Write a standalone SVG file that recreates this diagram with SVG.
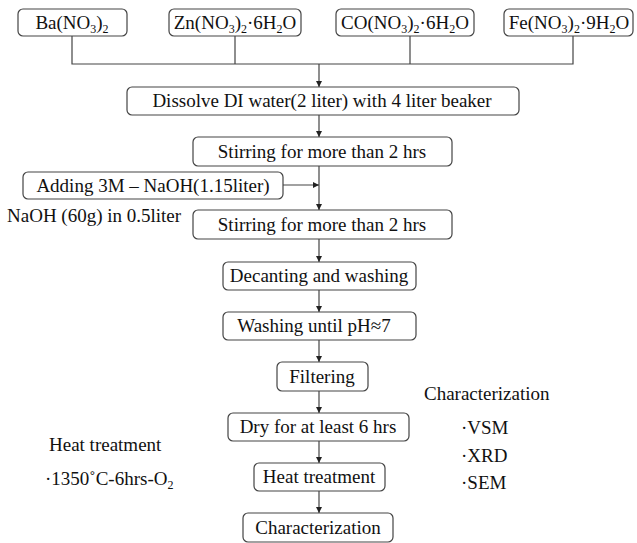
<svg xmlns="http://www.w3.org/2000/svg" width="637" height="543" viewBox="0 0 637 543">
<style>
.box{fill:#fff;stroke:#444;stroke-width:1.2}
.t{font-family:'Liberation Serif','Times New Roman',serif;font-size:19px;fill:#111}
.m{text-anchor:middle}
.ln{fill:none;stroke:#444;stroke-width:1.2}
</style>
<defs>
<marker id="ah" viewBox="0 0 8 8" refX="8" refY="4" markerWidth="6" markerHeight="6" orient="auto" markerUnits="userSpaceOnUse">
<path d="M0,0 L8,4 L0,8 z" fill="#222"/>
</marker>
</defs>
<rect width="637" height="543" fill="#fff"/>
<g id="connectors">
<path class="ln" d="M72,36 V64 H573 V36 M235,36 V64 M410,36 V64"/>
<path class="ln" d="M319,64 V87" marker-end="url(#ah)"/>
<path class="ln" d="M319,115 V137" marker-end="url(#ah)"/>
<path class="ln" d="M319,166 V210" marker-end="url(#ah)"/>
<path class="ln" d="M283,185 H319" marker-end="url(#ah)"/>
<path class="ln" d="M319,239 V262" marker-end="url(#ah)"/>
<path class="ln" d="M319,290 V312" marker-end="url(#ah)"/>
<path class="ln" d="M319,340 V362" marker-end="url(#ah)"/>
<path class="ln" d="M319,391 V413" marker-end="url(#ah)"/>
<path class="ln" d="M319,441 V463" marker-end="url(#ah)"/>
<path class="ln" d="M319,491 V513" marker-end="url(#ah)"/>
</g>
<g id="ba"><rect class="box" x="18" y="9" width="109" height="27" rx="5"/><text class="t m" x="72" y="29">Ba(NO<tspan font-size="12" dy="4">3</tspan><tspan dy="-4">)</tspan><tspan font-size="12" dy="4">2</tspan></text></g>
<g id="zn"><rect class="box" x="169" y="9" width="132" height="27" rx="5"/><text class="t m" x="235" y="29">Zn(NO<tspan font-size="12" dy="4">3</tspan><tspan dy="-4">)</tspan><tspan font-size="12" dy="4">2</tspan><tspan dy="-4">·6H</tspan><tspan font-size="12" dy="4">2</tspan><tspan dy="-4">O</tspan></text></g>
<g id="co"><rect class="box" x="336" y="9" width="138" height="27" rx="5"/><text class="t m" x="405" y="29">CO(NO<tspan font-size="12" dy="4">3</tspan><tspan dy="-4">)</tspan><tspan font-size="12" dy="4">2</tspan><tspan dy="-4">·6H</tspan><tspan font-size="12" dy="4">2</tspan><tspan dy="-4">O</tspan></text></g>
<g id="fe"><rect class="box" x="504" y="9" width="129" height="27" rx="5"/><text class="t m" x="569" y="29">Fe(NO<tspan font-size="12" dy="4">3</tspan><tspan dy="-4">)</tspan><tspan font-size="12" dy="4">2</tspan><tspan dy="-4">·9H</tspan><tspan font-size="12" dy="4">2</tspan><tspan dy="-4">O</tspan></text></g>
<g id="dissolve"><rect class="box" x="127" y="87" width="392" height="28" rx="5"/><text class="t m" x="322" y="107">Dissolve DI water(2 liter) with 4 liter beaker</text></g>
<g id="stir1"><rect class="box" x="193" y="137" width="259" height="29" rx="5"/><text class="t m" x="322" y="158">Stirring for more than 2 hrs</text></g>
<g id="adding"><rect class="box" x="23" y="172" width="260" height="27" rx="5"/><text class="t m" x="153" y="192">Adding 3M – NaOH(1.15liter)</text></g>
<g id="naoh"><text class="t" x="7" y="222">NaOH (60g) in 0.5liter</text></g>
<g id="stir2"><rect class="box" x="193" y="210" width="259" height="29" rx="5"/><text class="t m" x="322" y="231">Stirring for more than 2 hrs</text></g>
<g id="decant"><rect class="box" x="223" y="262" width="193" height="28" rx="5"/><text class="t m" x="319" y="282">Decanting and washing</text></g>
<g id="wash"><rect class="box" x="223" y="312" width="193" height="28" rx="5"/><text class="t m" x="314" y="332">Washing until pH≈7</text></g>
<g id="filter"><rect class="box" x="277" y="362" width="91" height="29" rx="5"/><text class="t m" x="322" y="383">Filtering</text></g>
<g id="dry"><rect class="box" x="228" y="413" width="181" height="28" rx="5"/><text class="t m" x="318" y="433">Dry for at least 6 hrs</text></g>
<g id="heat"><rect class="box" x="254" y="463" width="131" height="28" rx="5"/><text class="t m" x="319" y="483">Heat treatment</text></g>
<g id="char"><rect class="box" x="243" y="513" width="150" height="29" rx="5"/><text class="t m" x="318" y="534">Characterization</text></g>
<g id="heatnote"><text class="t" x="49" y="451">Heat treatment</text><text class="t" x="45" y="485">·1350˚C-6hrs-O<tspan font-size="12" dy="4">2</tspan></text></g>
<g id="charnote"><text class="t" x="424" y="400">Characterization</text><text class="t" x="461" y="434">·VSM</text><text class="t" x="461" y="462">·XRD</text><text class="t" x="461" y="489">·SEM</text></g>
</svg>
